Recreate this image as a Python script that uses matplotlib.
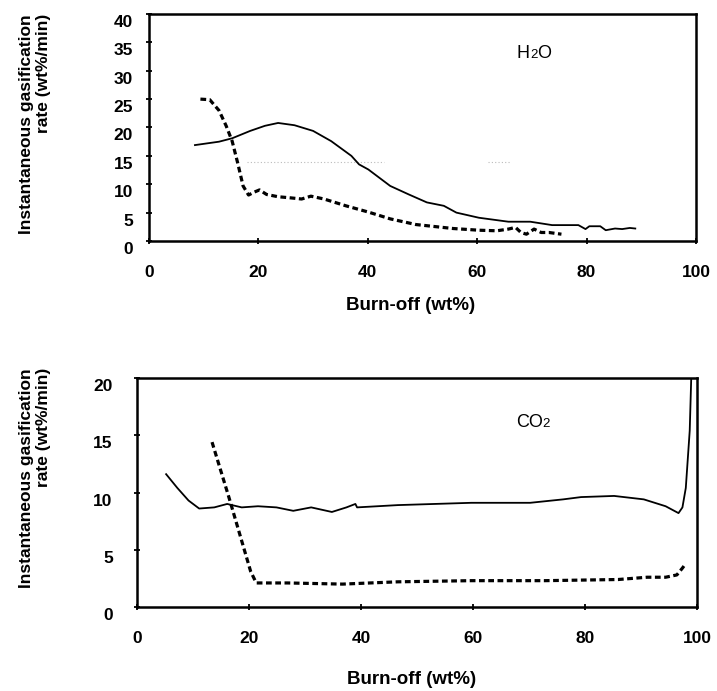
import matplotlib
matplotlib.use("Agg")
import matplotlib.pyplot as plt
import matplotlib.transforms as mtransforms
from matplotlib.offsetbox import TextArea, HPacker, AnnotationBbox

plt.rcParams["font.family"] = ["Liberation Sans", "DejaVu Sans"]

# ---- H2O gasification ----
h2o_solid_x = [8.4, 12.8, 15.2, 18.5, 21.2, 23.6, 26.6, 30.0, 33.3, 37.0, 38.4, 40.1,
               44.1, 47.5, 50.8, 53.9, 56.2, 60.3, 65.7, 69.7, 73.7, 78.5, 79.8, 80.5,
               82.5, 83.5, 85.2, 86.5, 87.9, 88.9]
h2o_solid_y = [16.9, 17.5, 18.1, 19.4, 20.3, 20.8, 20.4, 19.4, 17.6, 15.0, 13.5, 12.6,
               9.7, 8.2, 6.8, 6.2, 5.0, 4.1, 3.4, 3.4, 2.8, 2.8, 2.1, 2.6,
               2.6, 1.9, 2.2, 2.1, 2.3, 2.2]
h2o_dash_x = [9.4, 11.1, 12.8, 14.1, 15.2, 16.2, 17.2, 18.2, 19.2, 20.2, 21.5, 23.6,
              25.9, 27.9, 29.6, 32.0, 36.0, 40.1, 44.1, 48.8, 55.6, 60.3, 63.6, 65.7,
              67.0, 68.0, 69.0, 70.4, 71.7, 73.1, 75.4]
h2o_dash_y = [25.0, 24.9, 23.0, 20.3, 17.6, 13.8, 9.7, 8.1, 8.6, 9.0, 8.2, 7.8,
              7.6, 7.4, 7.9, 7.4, 6.2, 5.1, 3.9, 2.9, 2.2, 1.9, 1.8, 2.1,
              2.4, 1.5, 1.2, 2.1, 1.5, 1.5, 1.2]

# ---- CO2 gasification ----
co2_solid_x = [5.2, 7.2, 9.2, 11.1, 13.8, 16.1, 18.7, 21.6, 24.9, 27.9, 31.1, 34.8,
               37.4, 39.0, 39.3, 46.6, 59.7, 70.2, 76.1, 79.3, 85.2, 90.5, 94.4, 96.7,
               97.4, 98.0, 98.7, 99.0]
co2_solid_y = [11.6, 10.4, 9.3, 8.6, 8.7, 9.0, 8.7, 8.8, 8.7, 8.4, 8.7, 8.3,
               8.7, 9.0, 8.7, 8.9, 9.1, 9.1, 9.4, 9.6, 9.7, 9.4, 8.8, 8.2,
               8.7, 10.4, 15.4, 20.5]
co2_dash_x = [13.4, 16.4, 20.3, 21.3, 26.9, 36.7, 46.6, 59.7, 72.8, 85.9, 91.1, 94.4,
              96.4, 97.4, 98.0]
co2_dash_y = [14.4, 9.6, 3.1, 2.1, 2.1, 2.0, 2.2, 2.3, 2.3, 2.4, 2.6, 2.6,
              2.8, 3.4, 3.8]

x_ticks = [0, 20, 40, 60, 80, 100]
h2o_y_ticks = [0, 5, 10, 15, 20, 25, 30, 35, 40]
co2_y_ticks = [0, 5, 10, 15, 20]

W, H = 717, 691
fig = plt.figure(figsize=(W / 100, H / 100), dpi=100)
fig.patch.set_facecolor("white")


def px_axes(left, top, right, bottom):
    return fig.add_axes([left / W, 1 - bottom / H, (right - left) / W, (bottom - top) / H])


def formula_label(ax, xy, parts):
    """Chemical formula with a small on-baseline numeral, e.g. H2O."""
    boxes = []
    for text, size in parts:
        boxes.append(TextArea(text, textprops=dict(fontsize=size, color="black")))
    packed = HPacker(children=boxes, align="baseline", pad=0, sep=0)
    ab = AnnotationBbox(packed, xy, xycoords="data", frameon=False,
                        box_alignment=(0.5, 0.5), pad=0)
    ax.add_artist(ab)


ax1 = px_axes(149, 14, 696, 241)
ax2 = px_axes(137, 378, 697, 607)

solid_kw = dict(color="black", lw=1.3, solid_joinstyle="round")
dash_kw = dict(color="black", lw=2.3, linestyle=(0, (1.8, 1.1)), dash_capstyle="butt")

# faint remnant of a grid line
ax1.plot([18, 43], [14, 14], color="#bbbbbb", lw=0.8, linestyle=(0, (1, 2)))
ax1.plot([62, 66], [14, 14], color="#bbbbbb", lw=0.8, linestyle=(0, (1, 2)))

ax1.plot(h2o_solid_x, h2o_solid_y, **solid_kw)
ax1.plot(h2o_dash_x, h2o_dash_y, **dash_kw)
ax2.plot(co2_solid_x, co2_solid_y, **solid_kw)
ax2.plot(co2_dash_x, co2_dash_y, **dash_kw)

ax1.set_ylim(0, 40)
ax1.set_yticks(h2o_y_ticks)
ax2.set_ylim(0, 20)
ax2.set_yticks(co2_y_ticks)

ylab = "Instantaneous gasification\nrate (wt%/min)"
for ax, ypad, lab_y in [(ax1, 9, 124), (ax2, 15, 478)]:
    ax.set_xlim(0, 100)
    ax.set_xticks(x_ticks)
    for s in ax.spines.values():
        s.set_linewidth(1.8)
    ax.tick_params(axis="both", direction="inout", length=5, width=1.3,
                   labelsize=12.5)
    ax.tick_params(axis="x", pad=15)
    ax.tick_params(axis="y", pad=ypad)
    for t in ax.get_xticklabels() + ax.get_yticklabels():
        t.set_fontweight("bold")
    # value-axis tick labels sit a little below their ticks
    off = mtransforms.ScaledTranslation(0, -7 / 100, fig.dpi_scale_trans)
    for t in ax.get_yticklabels():
        t.set_transform(t.get_transform() + off)
    fig.text(35 / W, 1 - lab_y / H, ylab, rotation=90, ha="center", va="center",
             multialignment="right", fontsize=12.5, fontweight="bold", linespacing=1.15)

ax1.set_xlabel("Burn-off (wt%)", fontsize=13.5, fontweight="bold")
ax1.xaxis.set_label_coords((411 - 149) / 547, (241 - 305) / 227)
ax1.xaxis.label.set_va("center")
ax2.set_xlabel("Burn-off (wt%)", fontsize=13.5, fontweight="bold")
ax2.xaxis.set_label_coords((412 - 137) / 560, (607 - 680) / 229)
ax2.xaxis.label.set_va("center")

formula_label(ax1, (70.4, 33.1), [("H", 13), ("2", 9.5), ("O", 13)])
formula_label(ax2, (70.7, 16.1), [("CO", 13), ("2", 9.5)])

fig.savefig("out.png", dpi=100, facecolor="white")
